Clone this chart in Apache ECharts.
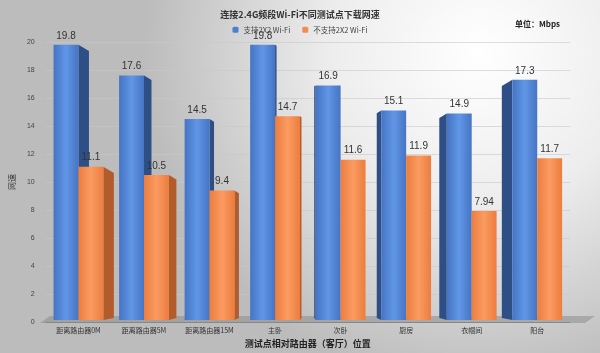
<!DOCTYPE html>
<html>
<head>
<meta charset="utf-8">
<script src="https://cdn.jsdelivr.net/npm/echarts@6/dist/echarts.min.js"></script>
<style>
  html, body { margin: 0; padding: 0; }
  #main { width: 600px; height: 353px; }
</style>
</head>
<body>
<div id="main"></div>
<script>
// 数据
var categories = ['距离路由器0M', '距离路由器5M', '距离路由器15M', '主卧', '次卧', '厨房', '衣帽间', '阳台'];
var support2x2 = [19.8, 17.6, 14.5, 19.8, 16.9, 15.1, 14.9, 17.3];
var noSupport2x2 = [11.1, 10.5, 9.4, 14.7, 11.6, 11.9, 7.94, 11.7];
var yTicks = [0, 2, 4, 6, 8, 10, 12, 14, 16, 18, 20];

var myChart = echarts.init(document.getElementById('main'));

// 伪3D柱子：正面 + 侧面
function makeRender(front, dark, isLeft) {
  return function (params, api) {
    var idx = api.value(0);
    var val = api.value(1);
    var top = api.coord([idx, val]);
    var base = api.coord([idx, 0]);
    var band = api.size([1, 0])[0];
    var w = band * 0.38;
    var x0 = isLeft ? top[0] - w : top[0];
    var x1 = x0 + w;
    var d = (3.5 - idx) * 3; // 透视深度
    var children = [];
    var showSide = isLeft || d > 0;
    if (showSide && Math.abs(d) > 1) {
      var sx = d > 0 ? x1 : x0;
      children.push({
        type: 'polygon',
        shape: { points: [[sx, top[1]], [sx + d, top[1] + Math.abs(d) * 0.6], [sx + d, base[1] - 4], [sx, base[1] - 2]] },
        style: { fill: dark }
      });
    }
    children.push({
      type: 'rect',
      shape: { x: x0, y: top[1], width: w, height: base[1] - 2 - top[1] },
      style: {
        fill: new echarts.graphic.LinearGradient(0, 0, 1, 0, [
          { offset: 0, color: front[0] },
          { offset: 0.5, color: front[1] },
          { offset: 1, color: front[0] }
        ])
      }
    });
    children.push({
      type: 'text',
      style: {
        text: String(val), x: (x0 + x1) / 2, y: top[1] - 4,
        align: 'center', verticalAlign: 'bottom',
        fill: '#333', font: '10px "Liberation Sans", Arial'
      }
    });
    return { type: 'group', children: children };
  };
}

function toData(arr) {
  return arr.map(function (v, i) { return [i, v]; });
}

myChart.setOption({
  backgroundColor: new echarts.graphic.RadialGradient(0.8, 0.15, 0.95, [
    { offset: 0, color: '#ffffff' },
    { offset: 0.45, color: '#ededed' },
    { offset: 1, color: '#bcbcbc' }
  ]),
  animation: false,
  title: {
    text: '连接2.4G频段Wi-Fi不同测试点下载网速',
    left: 'center',
    top: 5,
    textStyle: { fontSize: 9, fontWeight: 'bold', color: '#333', fontFamily: 'Noto Sans CJK SC' }
  },
  legend: {
    top: 21,
    left: 'center',
    itemWidth: 6,
    itemHeight: 6,
    itemGap: 12,
    textStyle: { fontSize: 7.5, color: '#444', fontFamily: 'Noto Sans CJK SC' },
    data: [
      { name: '支持2X2 Wi-Fi', itemStyle: { color: '#4a7fd2' } },
      { name: '不支持2X2 Wi-Fi', itemStyle: { color: '#f08c55' } }
    ]
  },
  graphic: [
    {
      type: 'text',
      left: 515,
      top: 20,
      style: { text: '单位：Mbps', fill: '#222', font: 'bold 8px "Noto Sans CJK SC"' }
    },
    {
      type: 'polygon',
      silent: true,
      z: -1,
      shape: { points: [[50, 316], [595, 316], [585, 323], [40, 323]] },
      style: { fill: 'rgba(140,140,140,0.55)' }
    }
  ],
  grid: { left: 42, right: 30, top: 42, bottom: 30 },
  xAxis: {
    type: 'category',
    data: categories,
    name: '测试点相对路由器（客厅）位置',
    nameLocation: 'middle',
    nameGap: 16,
    nameTextStyle: { fontSize: 9, fontWeight: 'bold', color: '#222', fontFamily: 'Noto Sans CJK SC' },
    axisLine: { lineStyle: { color: '#888' } },
    axisTick: { show: false },
    axisLabel: { fontSize: 7, color: '#333', margin: 5, fontFamily: 'Noto Sans CJK SC' }
  },
  yAxis: {
    type: 'value',
    min: yTicks[0],
    max: yTicks[yTicks.length - 1],
    interval: 2,
    name: '网速',
    nameLocation: 'middle',
    nameGap: 22,
    nameRotate: 90,
    nameTextStyle: { fontSize: 8, color: '#333', fontFamily: 'Noto Sans CJK SC' },
    axisLine: { show: false },
    axisTick: { show: false },
    axisLabel: { fontSize: 7, color: '#444', margin: 11 },
    splitLine: { lineStyle: { color: 'rgba(200,200,200,0.6)' } }
  },
  series: [
    {
      name: '支持2X2 Wi-Fi',
      type: 'custom',
      itemStyle: { color: '#4a7fd2' },
      encode: { x: 0, y: 1 },
      data: toData(support2x2),
      renderItem: makeRender(['#4674c4', '#6196e6'], '#2e4f86', true),
      z: 2
    },
    {
      name: '不支持2X2 Wi-Fi',
      type: 'custom',
      itemStyle: { color: '#f08c55' },
      encode: { x: 0, y: 1 },
      data: toData(noSupport2x2),
      renderItem: makeRender(['#ec7d3e', '#fb9b62'], '#b35c2b', false),
      z: 3
    }
  ]
});
</script>
</body>
</html>
